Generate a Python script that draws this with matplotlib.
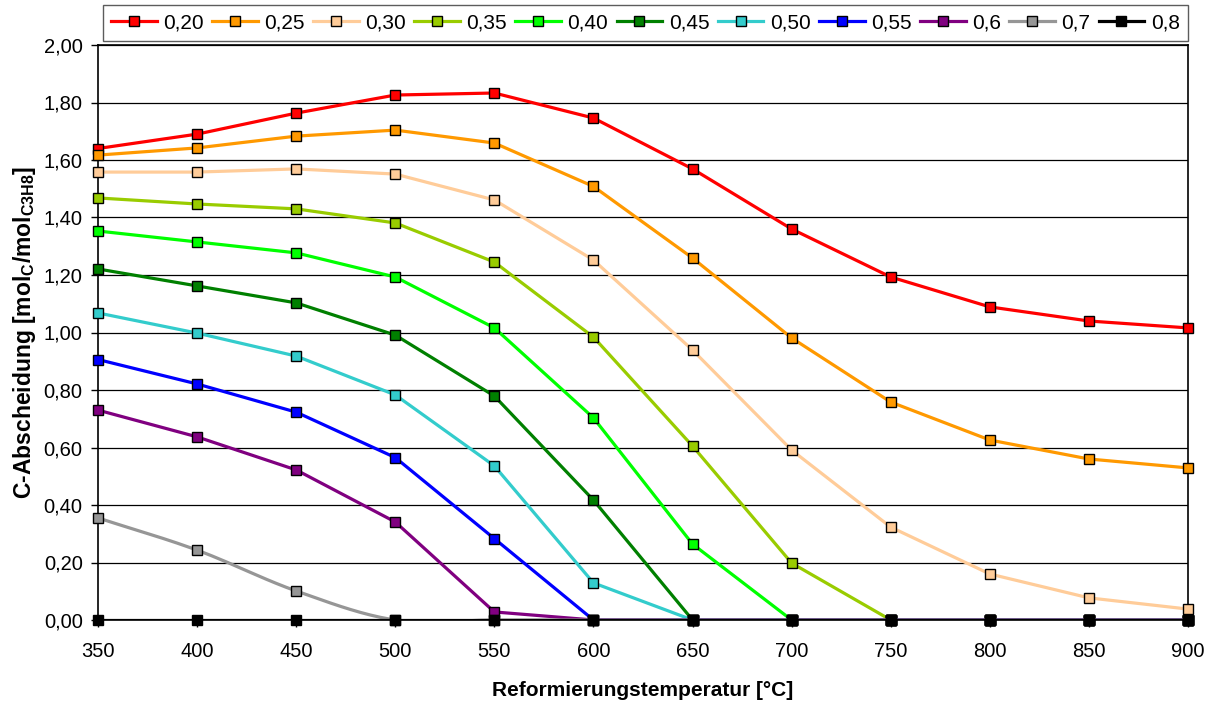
import numpy as np
import matplotlib
matplotlib.use("Agg")
import matplotlib.pyplot as plt
from matplotlib.lines import Line2D

plt.rcParams['font.family'] = ['Liberation Sans', 'DejaVu Sans']
plt.rcParams['mathtext.fontset'] = 'custom'
plt.rcParams['mathtext.rm'] = 'Liberation Sans:bold'
plt.rcParams['mathtext.it'] = 'Liberation Sans:bold'
plt.rcParams['mathtext.bf'] = 'Liberation Sans:bold'

temps = [350, 400, 450, 500, 550, 600, 650, 700, 750, 800, 850, 900]
labels = ['0,20', '0,25', '0,30', '0,35', '0,40', '0,45', '0,50', '0,55', '0,6', '0,7', '0,8']

s020 = [1.640, 1.690, 1.763, 1.826, 1.833, 1.746, 1.569, 1.360, 1.193, 1.089, 1.040, 1.016]
s025 = [1.617, 1.642, 1.683, 1.704, 1.659, 1.508, 1.259, 0.981, 0.758, 0.626, 0.560, 0.529]
s030 = [1.558, 1.558, 1.569, 1.551, 1.461, 1.252, 0.939, 0.591, 0.323, 0.160, 0.077, 0.038]
s035 = [1.468, 1.447, 1.430, 1.381, 1.245, 0.984, 0.605, 0.198, 0.0, 0.0, 0.0, 0.0]
s040 = [1.353, 1.315, 1.277, 1.193, 1.016, 0.703, 0.264, 0.0, 0.0, 0.0, 0.0, 0.0]
s045 = [1.221, 1.162, 1.103, 0.991, 0.779, 0.417, 0.0, 0.0, 0.0, 0.0, 0.0, 0.0]
s050 = [1.068, 0.998, 0.918, 0.783, 0.536, 0.129, 0.0, 0.0, 0.0, 0.0, 0.0, 0.0]
s055 = [0.906, 0.821, 0.723, 0.565, 0.283, 0.0, 0.0, 0.0, 0.0, 0.0, 0.0, 0.0]
s060 = [0.730, 0.637, 0.522, 0.341, 0.028, 0.0, 0.0, 0.0, 0.0, 0.0, 0.0, 0.0]
s070 = [0.355, 0.243, 0.101, 0.0, 0.0, 0.0, 0.0, 0.0, 0.0, 0.0, 0.0, 0.0]
s080 = [0.0] * 12

series = [s020, s025, s030, s035, s040, s045, s050, s055, s060, s070, s080]
colors = ['#FF0000', '#FF9900', '#FFCC99', '#99CC00', '#00FF00', '#008000',
          '#33CCCC', '#0000FF', '#800080', '#969696', '#000000']
smooth = [False] * 9 + [True, False]


def bezier_smooth(x, y, n=20):
    x = np.asarray(x, float)
    y = np.asarray(y, float)
    px = np.concatenate([[2 * x[0] - x[1]], x, [2 * x[-1] - x[-2]]])
    py = np.concatenate([[2 * y[0] - y[1]], y, [2 * y[-1] - y[-2]]])
    xs, ys = [], []
    t = np.linspace(0, 1, n, endpoint=False)
    for i in range(1, len(px) - 2):
        p0, p1, p2, p3 = py[i - 1], py[i], py[i + 1], py[i + 2]
        q0, q1, q2, q3 = px[i - 1], px[i], px[i + 1], px[i + 2]
        c1y = p1 + (p2 - p0) / 6
        c2y = p2 - (p3 - p1) / 6
        c1x = q1 + (q2 - q0) / 6
        c2x = q2 - (q3 - q1) / 6
        b = [(1 - t) ** 3, 3 * (1 - t) ** 2 * t, 3 * (1 - t) * t ** 2, t ** 3]
        xs.append(b[0] * q1 + b[1] * c1x + b[2] * c2x + b[3] * q2)
        ys.append(b[0] * p1 + b[1] * c1y + b[2] * c2y + b[3] * p2)
    xs.append([x[-1]])
    ys.append([y[-1]])
    return np.concatenate(xs), np.concatenate(ys)


fig = plt.figure(figsize=(12.12, 7.01), dpi=100)
ax = fig.add_axes([98 / 1212, 81 / 701, 1090 / 1212, 575 / 701])

handles = []
for i, (s, c, lab) in enumerate(zip(series, colors, labels)):
    z = 3 + i * 0.1
    if smooth[i]:
        xs, ys = bezier_smooth(temps, s)
        ax.plot(xs, ys, color=c, lw=2.3, zorder=z, solid_capstyle='round')
    else:
        ax.plot(temps, s, color=c, lw=2.3, zorder=z, solid_joinstyle='round')
    ax.plot(temps, s, ls='none', marker='s', ms=7, mfc=c, mec='black', mew=1.0,
            zorder=z + 0.05, clip_on=False)
    handles.append(Line2D([], [], color=c, lw=2.3, marker='s', ms=7, mfc=c,
                          mec='black', mew=1.0, label=lab))

ax.set_xlim(350, 900)
ax.set_ylim(0, 2.0)
ax.set_xticks(temps)
yt = np.arange(0, 2.01, 0.2)
ax.set_yticks(yt)
ax.set_yticklabels([f"{v:.2f}".replace('.', ',') for v in yt])
ax.yaxis.grid(True, color='black', lw=0.9)
ax.set_axisbelow(True)
for sp in ax.spines.values():
    sp.set_color('black')
    sp.set_linewidth(1.2)
ax.tick_params(axis='both', labelsize=14.5, direction='out', length=5, width=1, color='black')
ax.tick_params(axis='x', pad=11)
ax.tick_params(axis='y', pad=6)

ax.set_xlabel('Reformierungstemperatur [°C]', fontsize=15, fontweight='bold', labelpad=14)
ax.set_ylabel(r'C-Abscheidung [mol$_\mathrm{C}$/mol$_\mathrm{C3H8}$]', fontsize=16.5,
              fontweight='bold', labelpad=4)

leg = fig.legend(handles=handles, loc='upper left', ncol=11,
                 bbox_to_anchor=(103 / 1212, 1 - 5 / 701, 1085 / 1212, 0.0),
                 mode='expand', fontsize=15, frameon=True, fancybox=False,
                 handlelength=2.2, handletextpad=0.3, columnspacing=0.8,
                 borderpad=0.4, borderaxespad=0)
leg.get_frame().set_edgecolor('#333333')
leg.get_frame().set_linewidth(1.0)

fig.savefig('out.png', dpi=100)
